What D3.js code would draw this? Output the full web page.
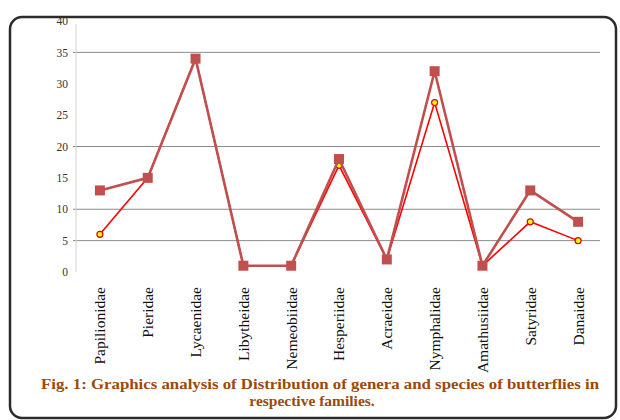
<!DOCTYPE html>
<html><head><meta charset="utf-8">
<script src="https://cdn.jsdelivr.net/npm/d3@7"></script>
<style>body{margin:0;background:#fff}svg{display:block}</style>
</head><body>
<svg id="c" width="620" height="420"></svg>
<script>
const families = ["Papilionidae","Pieridae","Lycaenidae","Libytheidae","Nemeobiidae","Hesperiidae","Acraeidae","Nymphalidae","Amathusiidae","Satyridae","Danaidae"];
const species = [13, 15, 34, 1, 1, 18, 2, 32, 1, 13, 8];
const genera = [6, 15, 34, 1, 1, 17, 2, 27, 1, 8, 5];
const yTicks = [0, 5, 10, 15, 20, 25, 30, 35, 40];
const gridValues = [5, 10, 20, 35];
const captionLines = ["Fig. 1: Graphics analysis of Distribution of genera and species of butterflies in", "respective families."];

const svg = d3.select("#c");
svg.append("rect").attr("x",10).attr("y",17).attr("width",606).attr("height",401)
  .attr("rx",12).attr("fill","none").attr("stroke","#2b2b2b").attr("stroke-width",2.5);

const x = d3.scaleBand().domain(families).range([76, 602]);
const y = d3.scaleLinear().domain([0, 40]).range([272, 21]);

svg.append("g").selectAll("line").data(gridValues).join("line")
  .attr("x1",73).attr("x2",600).attr("y1",d=>y(d)).attr("y2",d=>y(d))
  .attr("stroke","#8c8c8c").attr("stroke-width",1);

svg.append("line").attr("x1",76).attr("x2",76).attr("y1",y(40)+3).attr("y2",y(0))
  .attr("stroke","#d0d0d0").attr("stroke-width",1);

const yAxis = d3.axisLeft(y).tickValues(yTicks).tickSize(0).tickPadding(8);
const ga = svg.append("g").attr("transform","translate(76,0)").call(yAxis);
ga.select(".domain").remove();
ga.selectAll("text").attr("font-family","Liberation Serif").attr("font-size",11.5).attr("fill","#333");

const xAxis = d3.axisBottom(x).tickSize(0).tickPadding(0);
const gx = svg.append("g").attr("transform","translate(0,287)").call(xAxis);
gx.select(".domain").remove();
gx.selectAll("text").attr("font-family","Liberation Serif").attr("font-size",15.5).attr("fill","#111")
  .attr("transform","rotate(-90)").attr("text-anchor","end").attr("dy","0.35em").attr("dx","0").attr("y",0).attr("x",0);

const cx = d => x(d) + x.bandwidth()/2;
const line = d3.line().x((d,i)=>cx(families[i])).y(d=>y(d));

svg.append("path").datum(genera).attr("d",line).attr("fill","none").attr("stroke","#ff0000").attr("stroke-width",1.6);
svg.append("g").selectAll("circle").data(genera).join("circle")
  .attr("cx",(d,i)=>cx(families[i])).attr("cy",d=>y(d)).attr("r",3)
  .attr("fill","#ffff00").attr("stroke","#e00000").attr("stroke-width",1.2);

svg.append("path").datum(species).attr("d",line).attr("fill","none").attr("stroke","#c0504d").attr("stroke-width",2.6);
const s = 10;
svg.append("g").selectAll("rect").data(species).join("rect")
  .attr("x",(d,i)=>cx(families[i])-s/2).attr("y",d=>y(d)-s/2).attr("width",s).attr("height",s)
  .attr("fill","#c0504d");

const cap = svg.append("g").selectAll("text").data(captionLines).join("text")
  .attr("x",(d,i)=>i===0?320:312).attr("y",(d,i)=>389+i*17).attr("text-anchor","middle")
  .attr("font-family","Liberation Serif").attr("font-weight","bold").attr("font-size",15.5)
  .attr("fill","#9b4a0a").text(d=>d);
cap.filter((d,i)=>i===0).attr("textLength",558).attr("lengthAdjust","spacingAndGlyphs");
</script>
</body></html>
